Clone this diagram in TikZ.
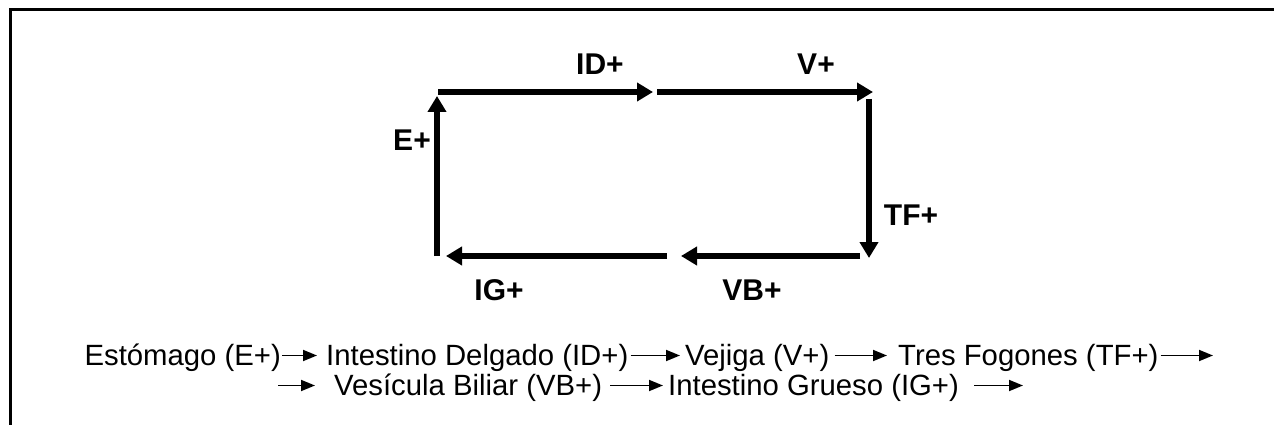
\documentclass[tikz,border=0pt]{standalone}
\usepackage{fontspec}
\setmainfont{Liberation Sans}
\usetikzlibrary{arrows.meta,calc}
\begin{document}
\begin{tikzpicture}[x=1pt,y=-1pt,
  big/.style={line width=6pt,-{Triangle[length=16pt,width=18pt]}},
  small/.style={line width=1.8pt,-{Triangle[length=14pt,width=11pt]}},
  lab/.style={font=\fontsize{30}{30}\selectfont\bfseries,inner sep=0pt,anchor=base},
  txt/.style={font=\fontsize{29.3}{30}\selectfont,inner sep=0pt},
  frame/.style={line width=3pt}]
\useasboundingbox (0,0) rectangle (1274,425);
\draw[frame] (10,425) -- (10,10) -- (1274,10);
% cycle diagram
\coordinate (e0) at (437,256);  \coordinate (e1) at (437,96);
\coordinate (id0) at (438,92);  \coordinate (id1) at (653,92);
\coordinate (v0) at (657,92);   \coordinate (v1) at (873,92);
\coordinate (tf0) at (869,99);  \coordinate (tf1) at (869,258);
\coordinate (vb0) at (860,256); \coordinate (vb1) at (681,256);
\coordinate (ig0) at (667,256); \coordinate (ig1) at (446,256);
\draw[big] (e0) -- (e1);
\draw[big] (id0) -- (id1);
\draw[big] (v0) -- (v1);
\draw[big] (tf0) -- (tf1);
\draw[big] (vb0) -- (vb1);
\draw[big] (ig0) -- (ig1);
\node[lab] (lid) at (600,75) {ID+};
\node[lab] (lv) at (816,75) {V+};
\node[lab] (le) at (412,150) {E+};
\node[lab] (ltf) at (911,225) {TF+};
\node[lab] (lvb) at (752,300) {VB+};
\node[lab] (lig) at (499,300) {IG+};
% text lines
\node[txt,anchor=base east] (t1) at (281,365) {Estómago (E+)};
\node[txt,anchor=base west] (t2) at (326,365) {Intestino Delgado (ID+)};
\node[txt,anchor=base west] (t3) at (685,365) {Vejiga (V+)};
\node[txt,anchor=base west] (t4) at (898,365) {Tres Fogones (TF+)};
\coordinate (a4end) at (1213,355.5);
\draw[small] ($(t1.base east)+(1,-9.5)$) -- ($(t2.base west)+(-9,-9.5)$);
\draw[small] ($(t2.base east)+(2,-9.5)$) -- ($(t3.base west)+(-5,-9.5)$);
\draw[small] ($(t3.base east)+(5,-9.5)$) -- ($(t4.base west)+(-11,-9.5)$);
\draw[small] ($(t4.base east)+(2,-9.5)$) -- (a4end);
\coordinate (b1start) at (278,385.5);
\node[txt,anchor=base west] (t5) at (334,395) {Vesícula Biliar (VB+)};
\node[txt,anchor=base west] (t6) at (668,395) {Intestino Grueso (IG+)};
\coordinate (b3end) at (1023,385.5);
\draw[small] (b1start) -- ($(t5.base west)+(-19,-9.5)$);
\draw[small] ($(t5.base east)+(8,-9.5)$) -- ($(t6.base west)+(-5,-9.5)$);
\draw[small] ($(t6.base east)+(15,-9.5)$) -- (b3end);
\end{tikzpicture}
\end{document}
